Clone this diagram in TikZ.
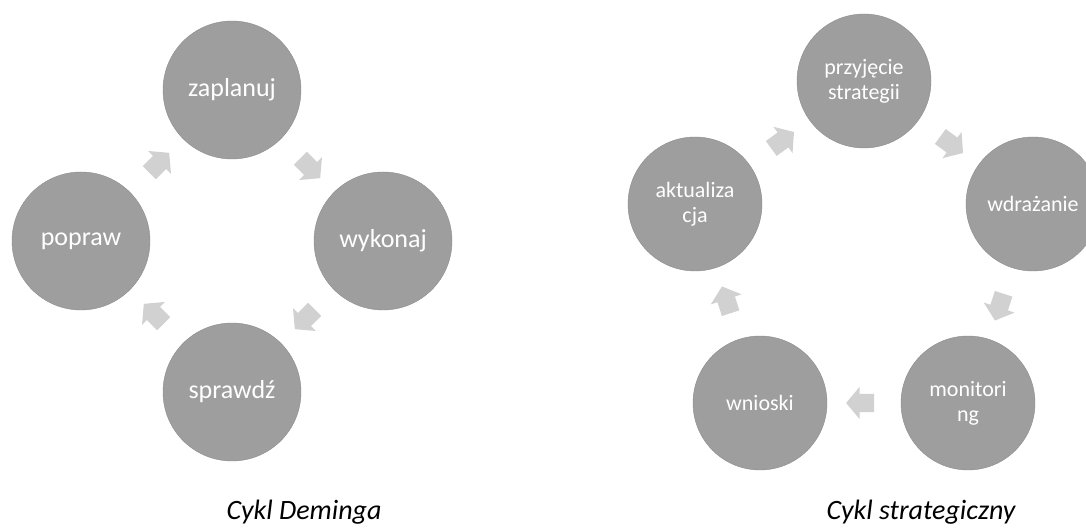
\documentclass[tikz,border=0pt]{standalone}
\usepackage{fontspec}
\setmainfont{Carlito}
\usetikzlibrary{shapes.arrows,calc}

\begin{document}
\begin{tikzpicture}[
    x=1pt, y=1pt,
    stage/.style={circle, fill=black!38, draw=black!45, minimum size=138pt, inner sep=0pt, align=center, text=white, font=\fontsize{26}{28}\selectfont},
    smallstage/.style={stage, minimum size=134pt, font=\fontsize{22}{25}\selectfont},
    cyclearrow/.style={single arrow, fill=black!18, inner xsep=10pt, inner ysep=9pt, single arrow head extend=7pt, single arrow head indent=0pt, single arrow tip angle=100},
    caption/.style={font=\fontsize{28}{30}\selectfont\itshape, anchor=base}
]
\useasboundingbox (0,0) rectangle (1086,529);

% Deming cycle
\node[stage] (plan) at (232,439) {zaplanuj};
\node[stage] (doit) at (383,288) {wykonaj};
\node[stage] (check) at (232,137) {sprawdź};
\node[stage] (act) at (81,288) {popraw};

\node[cyclearrow, rotate=-45] (a1) at ($(plan)!0.5!(doit)$) {};
\node[cyclearrow, rotate=-135] (a2) at ($(doit)!0.5!(check)$) {};
\node[cyclearrow, rotate=135] (a3) at ($(check)!0.5!(act)$) {};
\node[cyclearrow, rotate=45] (a4) at ($(act)!0.5!(plan)$) {};

% Strategic cycle
\node[smallstage] (adopt) at (864,448) {przyjęcie\\strategii};
\node[smallstage] (impl) at (1033,325) {wdrażanie};
\node[smallstage] (monit) at (968,126) {monitori\\ng};
\node[smallstage] (concl) at (760,126) {wnioski};
\node[smallstage] (update) at (695,325) {aktualiza\\cja};

\node[cyclearrow, rotate=-36] (b1) at ($(adopt)!0.5!(impl)$) {};
\node[cyclearrow, rotate=-108] (b2) at ($(impl)!0.5!(monit)$) {};
\node[cyclearrow, rotate=180] (b3) at ($(monit)!0.5!(concl)$) {};
\node[cyclearrow, rotate=108] (b4) at ($(concl)!0.5!(update)$) {};
\node[cyclearrow, rotate=36] (b5) at ($(update)!0.5!(adopt)$) {};

% Captions
\node[caption] (capdeming) at (304,9) {Cykl Deminga};
\node[caption] (capstrat) at (921,9) {Cykl strategiczny};

\end{tikzpicture}
\end{document}
